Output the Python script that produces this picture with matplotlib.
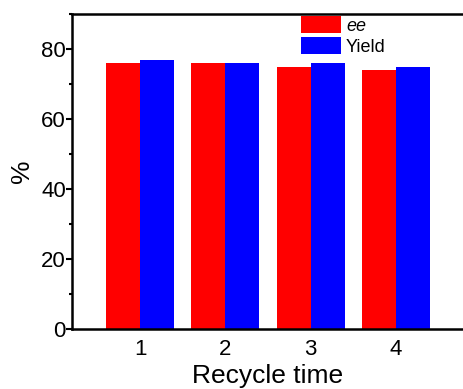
import matplotlib
matplotlib.use("Agg")
import matplotlib.pyplot as plt
import numpy as np
from matplotlib.ticker import MultipleLocator

plt.rcParams['font.family'] = ['Liberation Sans', 'DejaVu Sans']

cycles = [1, 2, 3, 4]
ee_vals = [76, 76, 75, 74]
yield_vals = [77, 76, 76, 75]
labels = ['ee', 'Yield']

fig = plt.figure(figsize=(4.63, 3.89), dpi=100)
ax = fig.add_axes([72/463, 60/389, 392/463, 315/389])

x = np.array(cycles, dtype=float)
w = 0.4
ax.bar(x - w/2, ee_vals, width=w, color='#ff0000', label=labels[0])
ax.bar(x + w/2, yield_vals, width=w, color='#0000ff', label=labels[1])

ax.set_xlim(0.2, 4.8)
ax.set_ylim(0, 90)
ax.set_xticks(cycles)
ax.yaxis.set_major_locator(MultipleLocator(20))
ax.yaxis.set_minor_locator(MultipleLocator(10))
ax.tick_params(axis='x', length=0, labelsize=16, pad=7)
ax.tick_params(axis='y', which='major', direction='out', length=4, width=1.5, labelsize=16, pad=0.5)
ax.tick_params(axis='y', which='minor', direction='out', length=2.5, width=1.5)
for s in ax.spines.values():
    s.set_linewidth(1.8)

ax.set_xlabel('Recycle time', fontsize=19, labelpad=3)
ax.set_ylabel('%', fontsize=19, labelpad=5)

leg = fig.legend(loc='upper left', bbox_to_anchor=(301/463, 1 - 16/389),
                 frameon=False, fontsize=13, handlelength=2.2, handleheight=1.1,
                 handletextpad=0.3, labelspacing=0.12, borderpad=0, borderaxespad=0)
leg.get_texts()[0].set_style('italic')

fig.savefig('out.png', dpi=100)
